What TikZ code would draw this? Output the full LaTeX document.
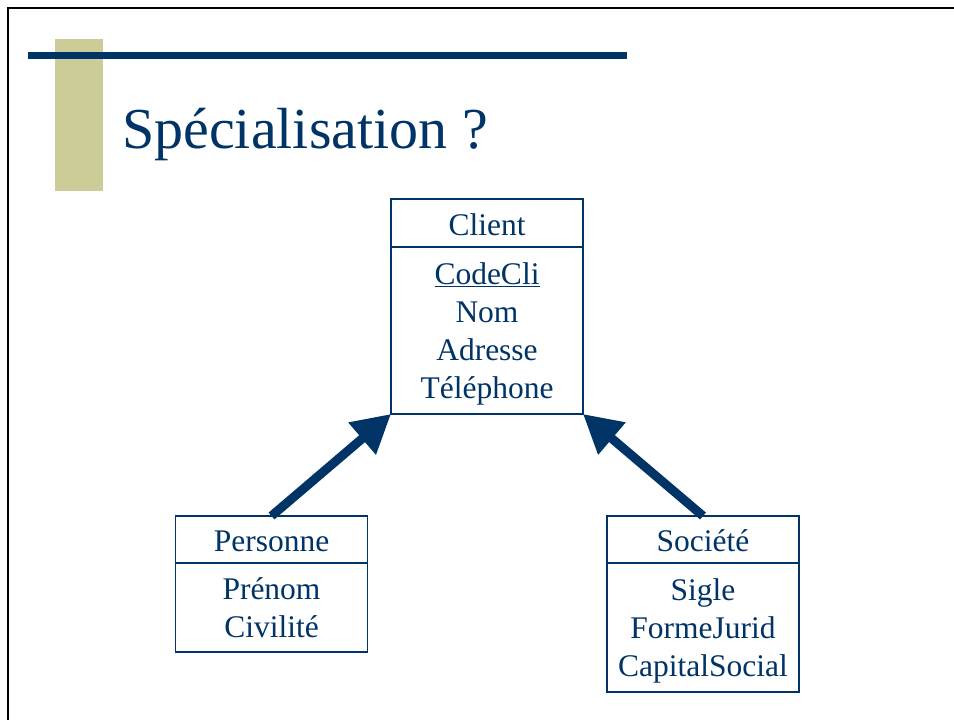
\documentclass[tikz,border=0pt]{standalone}
\usepackage{fontspec}
\setmainfont{Liberation Serif}
\usetikzlibrary{arrows.meta,positioning}

\begin{document}
\begin{tikzpicture}[x=1pt,y=-1pt]
\colorlet{uml blue}{rgb,255:red,0;green,51;blue,102}
\definecolor{bar khaki}{RGB}{204,204,153}
\tikzset{
     classhead/.style={draw=uml blue, line width=1.2pt, text=uml blue, inner sep=0pt, outer sep=0pt,
        minimum width=192pt, minimum height=48pt, text height=24pt, text depth=0pt,
        font=\fontsize{31.5}{38}\selectfont},
     classbody/.style={draw=uml blue, line width=1.2pt, text=uml blue, inner sep=0pt, outer sep=0pt,
        minimum width=192pt, align=center, text depth=0pt, font=\fontsize{31.5}{38}\selectfont},
     genarrow/.style={draw=uml blue, line width=9pt, -{Triangle[length=38pt,width=40pt]}}}
\useasboundingbox (0,0) rectangle (954,720);

% The slide frame and decorations
\draw [line width=2pt] (954,8) -- (8,8) -- (8,720);
\fill [bar khaki] (55,39) rectangle (103,191);
\fill [uml blue] (28,52) rectangle (627,59);
\node (title) at (122,148) [anchor=base west, inner sep=0pt, text=uml blue,
   font=\fontsize{58}{60}\selectfont] {Spécialisation ?};

% The classes
\node (clienthead) at (487,223) [classhead] {Client};
\node (clientbody) [classbody, below=0pt of clienthead, minimum height=167pt]
   {\underline{CodeCli}\\Nom\\Adresse\\Téléphone};

\node (personnehead) at (271.5,539.5) [classhead, minimum height=47pt] {Personne};
\node (personnebody) [classbody, below=0pt of personnehead, minimum height=89pt]
   {Prénom\\Civilité};

\node (societehead) at (703,539.5) [classhead, minimum height=47pt] {Société};
\node (societebody) [classbody, below=0pt of societehead, minimum height=129pt]
   {Sigle\\FormeJurid\\CapitalSocial};

% The specialisation arrows
\draw [genarrow] (personnehead.north) -- (clientbody.south west);
\draw [genarrow] (societehead.north) -- (clientbody.south east);
\end{tikzpicture}
\end{document}
